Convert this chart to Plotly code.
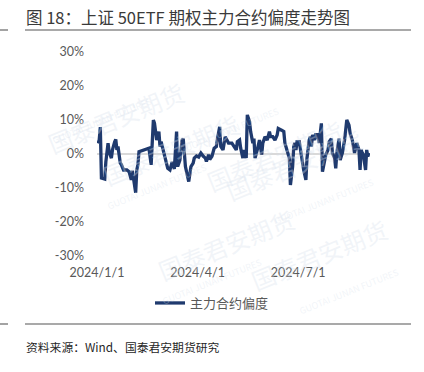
import plotly.graph_objects as go

# ---- data ----
dates = [
    "2024-01-02", "2024-01-03", "2024-01-04", "2024-01-05", "2024-01-08", "2024-01-09",
    "2024-01-11", "2024-01-12", "2024-01-14", "2024-01-15", "2024-01-17", "2024-01-18",
    "2024-01-19", "2024-01-20", "2024-01-22", "2024-01-23", "2024-01-25", "2024-01-28",
    "2024-01-30", "2024-02-01", "2024-02-02", "2024-02-04", "2024-02-05", "2024-02-06",
    "2024-02-07", "2024-02-08", "2024-02-17", "2024-02-19", "2024-02-21", "2024-02-22",
    "2024-02-24", "2024-02-26", "2024-02-27", "2024-02-28", "2024-03-01", "2024-03-03",
    "2024-03-05", "2024-03-07", "2024-03-09", "2024-03-11", "2024-03-12", "2024-03-13",
    "2024-03-14", "2024-03-16", "2024-03-18", "2024-03-19", "2024-03-21", "2024-03-22",
    "2024-03-24", "2024-03-26", "2024-03-28", "2024-03-29", "2024-03-31", "2024-04-02",
    "2024-04-04", "2024-04-06", "2024-04-08", "2024-04-09", "2024-04-11", "2024-04-12",
    "2024-04-14", "2024-04-16", "2024-04-18", "2024-04-19", "2024-04-21", "2024-04-22",
    "2024-04-24", "2024-04-26", "2024-04-27", "2024-04-29", "2024-05-02", "2024-05-04",
    "2024-05-06", "2024-05-07", "2024-05-09", "2024-05-10", "2024-05-12", "2024-05-13",
    "2024-05-15", "2024-05-16", "2024-05-18", "2024-05-19", "2024-05-21", "2024-05-22",
    "2024-05-23", "2024-05-25", "2024-05-27", "2024-05-29", "2024-05-30", "2024-06-01",
    "2024-06-03", "2024-06-05", "2024-06-06", "2024-06-08", "2024-06-10", "2024-06-12",
    "2024-06-13", "2024-06-16", "2024-06-18", "2024-06-19", "2024-06-21", "2024-06-23",
    "2024-06-24", "2024-06-26", "2024-06-27", "2024-06-28", "2024-06-29", "2024-06-30",
    "2024-07-02", "2024-07-04", "2024-07-06", "2024-07-08", "2024-07-09", "2024-07-11",
    "2024-07-12", "2024-07-13", "2024-07-14", "2024-07-16", "2024-07-17", "2024-07-18",
    "2024-07-19", "2024-07-20", "2024-07-22", "2024-07-23", "2024-07-24", "2024-07-26",
    "2024-07-28", "2024-07-29", "2024-07-31", "2024-08-01", "2024-08-03", "2024-08-04",
    "2024-08-05", "2024-08-07", "2024-08-08", "2024-08-10", "2024-08-12", "2024-08-13",
    "2024-08-14", "2024-08-16", "2024-08-17", "2024-08-19", "2024-08-21", "2024-08-23",
    "2024-08-25", "2024-08-26", "2024-08-27", "2024-08-28", "2024-08-29", "2024-08-31",
    "2024-09-01", "2024-09-02", "2024-09-03",
]
skew = [
    3.1, 4.1, 7.9, -7.1, -7.4, -2.3,
    3.2, 0.6, -1.2, 1.2, 3.6, 4.3,
    1.2, 2.2, -2.6, -3.1, -4.7, -4.7,
    -5.2, -7.6, -4.9, -8.6, -11.4, -4.7,
    -3.2, 0.7, 1.7, -3.2, 10.0, 9.1,
    4.1, 6.6, 2.2, 3.6, 1.2, -1.8,
    -4.2, -4.7, -2.3, -4.4, 1.2, 6.6,
    -3.7, -1.8, 4.1, 4.5, -3.7, -5.2,
    -8.1, -3.7, -2.7, -1.2, -0.6, -0.9,
    0.3, -0.6, -1.2, -2.2, -0.2, -1.6,
    -0.7, 1.7, 2.2, 4.5, 8.0, 2.2,
    1.2, 5.1, 4.5, 3.2, 3.2, 2.2,
    1.2, 3.6, 4.1, 1.7, -1.2, 1.2,
    -1.2, 11.5, 9.5, 6.6, 3.2, 4.5,
    -1.2, 1.2, 4.1, -0.2, 3.2, 5.1,
    4.1, 6.6, 5.1, 5.1, 4.1, 5.6,
    7.5, 7.0, 6.6, 3.2, 1.2, -1.2,
    -9.1, -3.7, 2.2, 3.2, 1.2, 3.6,
    3.6, -0.7, -4.7, -7.6, -1.2, 4.1,
    5.1, 2.2, 5.6, 4.1, 6.1, 4.5,
    6.1, 3.2, 9.0, -5.2, -3.7, -0.2,
    1.2, 3.6, 4.5, 0.3, -1.2, -4.2,
    0.3, 4.5, -1.8, 0.3, 4.1, 7.0,
    10.0, 8.5, 6.1, 4.1, 0.3, 3.2,
    1.2, -4.7, 1.2, 0.3, -0.2, -4.7,
    1.2, -0.7, 0.3,
]
series_name = "主力合约偏度"
y_ticks = [-30, -20, -10, 0, 10, 20, 30]
y_tick_text = ["-30%", "-20%", "-10%", "0%", "10%", "20%", "30%"]
x_tick_vals = ["2024-01-01", "2024-04-01", "2024-07-01"]
x_tick_text = ["2024/1/1", "2024/4/1", "2024/7/1"]
title_text = "图 18：上证 50ETF 期权主力合约偏度走势图"
source_text = "资料来源：Wind、国泰君安期货研究"

# ---- layout geometry ----
W, H = 424, 372
L, R, T, B = 97, 54, 52, 116
PW, PH = W - L - R, H - T - B


def px(x):
    return (x - L) / PW


def py(y):
    return (H - B - y) / PH


FONT = "Noto Sans CJK SC"
TICK_FONT = "Lato, Noto Sans CJK SC"

fig = go.Figure()
fig.add_trace(go.Scatter(
    x=dates, y=skew, mode="lines", name=series_name,
    line=dict(color="#1F3A6E", width=3.3),
))

shapes = []
for y0 in (30, 324):
    shapes.append(dict(type="line", xref="paper", yref="paper",
                       x0=px(25), x1=px(411), y0=py(y0), y1=py(y0),
                       line=dict(color="#8c8c8c", width=1.6)))
    shapes.append(dict(type="line", xref="paper", yref="paper",
                       x0=px(0), x1=px(8), y0=py(y0), y1=py(y0),
                       line=dict(color="#8c8c8c", width=1.6)))

annotations = [
    dict(text=title_text, xref="paper", yref="paper", x=px(24), y=py(17),
         xanchor="left", yanchor="middle", showarrow=False,
         font=dict(family=FONT, size=16.5, color="#3a3a3a")),
    dict(text=source_text, xref="paper", yref="paper", x=px(24), y=py(346),
         xanchor="left", yanchor="middle", showarrow=False,
         font=dict(family=FONT, size=11.8, color="#262626")),
]

# faint watermarks
wm = [(40, 72), (275, 110), (95, 195), (370, 210), (150, 290), (395, 300)]
for (wx, wy) in wm:
    annotations.append(dict(text="国泰君安期货", xref="paper", yref="paper",
                            x=px(wx), y=py(wy), showarrow=False, textangle=-22,
                            font=dict(family=FONT, size=24, color="rgba(215,224,236,0.35)")))
    annotations.append(dict(text="GUOTAI JUNAN FUTURES", xref="paper", yref="paper",
                            x=px(wx + 8), y=py(wy + 20), showarrow=False, textangle=-22,
                            font=dict(family=FONT, size=9, color="rgba(215,224,236,0.35)")))

fig.update_layout(
    width=W, height=H,
    margin=dict(l=L, r=R, t=T, b=B, pad=0),
    paper_bgcolor="white", plot_bgcolor="white",
    showlegend=True,
    legend=dict(orientation="h", x=px(150), y=py(303), xanchor="left", yanchor="middle",
                font=dict(family=FONT, size=13, color="#595959"),
                bgcolor="rgba(0,0,0,0)"),
    shapes=shapes,
    annotations=annotations,
    xaxis=dict(type="date", range=["2024-01-01", "2024-09-04"],
               tickvals=x_tick_vals, ticktext=x_tick_text,
               showgrid=False, showline=False, zeroline=False, ticks="",
               ticklabelstandoff=7,
               tickfont=dict(family=TICK_FONT, size=12.5, color="#595959")),
    yaxis=dict(range=[-30, 30], tickvals=y_ticks, ticktext=y_tick_text,
               showgrid=False, showline=False, ticks="",
               zeroline=True, zerolinecolor="#d9d9d9", zerolinewidth=1.5,
               ticklabelstandoff=12,
               tickfont=dict(family=TICK_FONT, size=12.5, color="#595959")),
)

fig.write_html("out.html", config={"displayModeBar": False},
               post_script="document.body.style.margin='0';document.body.style.overflow='hidden';")
